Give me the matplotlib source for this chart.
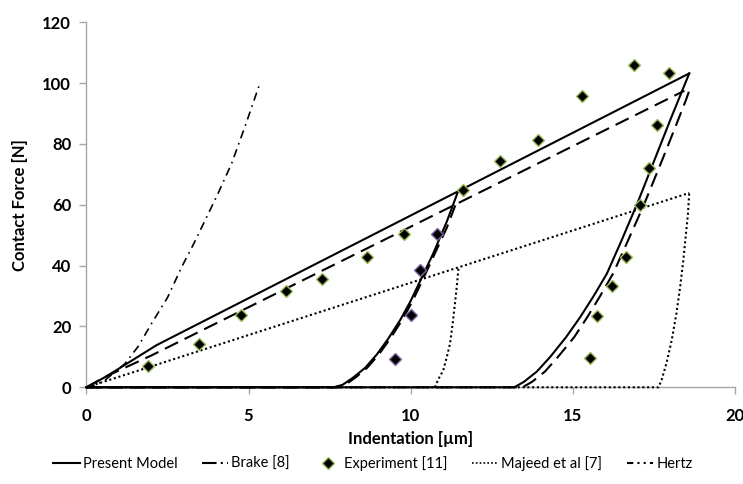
import matplotlib
matplotlib.use("Agg")
import matplotlib.pyplot as plt
from matplotlib.lines import Line2D

plt.rcParams['font.family'] = ['Lato', 'DejaVu Sans']

# Present model: loading curve + two unloading curves
present_load_x = [0, 0.6, 2.17, 18.6]
present_load_y = [0, 3.5, 13.9, 103.2]
present_un1_x = [0, 7.62, 7.9, 8.23, 8.6, 8.96, 9.3, 9.68, 10.0, 10.29, 10.7, 11.12, 11.48]
present_un1_y = [0, 0, 0.8, 3.2, 6.4, 10.8, 15.8, 22.1, 28.3, 34.8, 44.0, 54.5, 64.8]
present_un2_x = [0, 13.2, 13.5, 13.9, 14.31, 14.8, 15.23, 15.65, 16.06, 16.5, 17.0, 17.5, 18.0, 18.6]
present_un2_y = [0, 0, 1.8, 5.2, 10.0, 16.5, 23.0, 30.0, 37.4, 48.0, 60.5, 74.0, 87.5, 103.2]

# Brake [8]
brake_load_x = [0, 0.57, 2.01, 18.45]
brake_load_y = [0, 3.4, 10.5, 97.5]
brake_un1_x = [0, 7.7, 7.98, 8.3, 8.66, 9.02, 9.36, 9.74, 10.06, 10.35, 10.75, 11.12, 11.38]
brake_un1_y = [0, 0, 0.8, 3.2, 6.4, 10.8, 15.8, 22.1, 28.3, 34.8, 44.0, 52.5, 59.8]
brake_un2_x = [0, 13.45, 13.75, 14.15, 14.55, 15.05, 15.45, 15.85, 16.25, 16.7,
               17.2, 17.7, 18.15, 18.5, 18.6, 18.55]
brake_un2_y = [0, 0, 1.8, 5.2, 10.0, 16.5, 23.0, 30.0, 37.4, 48.0,
               60.0, 73.0, 85.0, 94.5, 97.5, 98.6]

# Experiment [11]
exp_x = [1.89, 3.46, 4.78, 6.15, 7.27, 8.66, 9.8, 11.63, 12.77, 13.94, 15.29,
         16.91, 17.97, 17.61, 17.35, 17.09, 16.66, 16.22, 15.76, 15.55]
exp_y = [6.9, 14.1, 23.8, 31.5, 35.6, 42.8, 50.4, 64.8, 74.4, 81.3, 95.7,
         105.9, 103.2, 86.2, 72.0, 60.0, 43.0, 33.2, 23.3, 9.6]
exp_un_x = [10.81, 10.28, 10.02, 9.53]
exp_un_y = [50.4, 38.7, 23.8, 9.4]

# Majeed et al [7]
majeed_load_x = [0, 18.6]
majeed_load_y = [0, 63.9]
majeed_un1_x = [10.75, 10.85, 11.01, 11.12, 11.22, 11.3, 11.37, 11.43, 11.48]
majeed_un1_y = [0, 2.5, 5.6, 10.0, 14.4, 21.0, 27.5, 33.5, 39.3]
majeed_un2_x = [0, 17.65, 17.75, 17.9, 18.06, 18.2, 18.32, 18.42, 18.5, 18.56, 18.6]
majeed_un2_y = [0, 0, 2.5, 8.0, 15.5, 24.0, 33.0, 42.0, 50.6, 57.0, 63.9]

# Hertz
hertz_x = [0, 0.3, 0.57, 1.19, 1.6, 2.01, 2.5, 2.94, 3.3, 3.66, 4.05, 4.48, 4.9, 5.35]
hertz_y = [0, 0.9, 2.3, 7.8, 13.5, 21.0, 29.5, 39.6, 47.0, 54.9, 63.5, 73.6, 86.0, 99.9]

fig = plt.figure(figsize=(7.43, 4.84), dpi=100)
ax = fig.add_axes([0.1164, 0.1998, 0.8723, 0.7541])

lw = 1.5
dash = (0, (7, 3.5))
dot = (0, (1, 1.3))
dashdot = (0, (5, 3, 1, 3))
kw = dict(color='black', clip_on=False, zorder=3)

ax.plot(majeed_load_x, majeed_load_y, lw=lw, linestyle=dot, **kw)
ax.plot(majeed_un1_x, majeed_un1_y, lw=lw, linestyle=dot, **kw)
ax.plot(majeed_un2_x, majeed_un2_y, lw=lw, linestyle=dot, **kw)

ax.plot(hertz_x, hertz_y, lw=1.2, linestyle=dashdot, **kw)

ax.plot(brake_load_x, brake_load_y, lw=lw, linestyle=dash, **kw)
ax.plot(brake_un1_x, brake_un1_y, lw=lw, linestyle=dash, **kw)
ax.plot(brake_un2_x, brake_un2_y, lw=lw, linestyle=dash, **kw)

ax.plot(present_load_x, present_load_y, lw=lw, **kw)
ax.plot(present_un1_x, present_un1_y, lw=lw, **kw)
ax.plot(present_un2_x, present_un2_y, lw=lw, **kw)

ax.plot(exp_x, exp_y, 'D', color='black', markersize=6.5, zorder=4,
        markeredgecolor='#9BBB59', markeredgewidth=1.0, linestyle='none')
ax.plot(exp_un_x, exp_un_y, 'D', color='black', markersize=6.5, zorder=4,
        markeredgecolor='#8064A2', markeredgewidth=1.0, linestyle='none')

ax.set_xlim(0, 20)
ax.set_ylim(0, 120)
ax.set_xticks([0, 5, 10, 15, 20])
ax.set_yticks(range(0, 121, 20))

for s in ['top', 'right']:
    ax.spines[s].set_visible(False)
for s in ['left', 'bottom']:
    ax.spines[s].set_color('#A6A6A6')
    ax.spines[s].set_linewidth(1.0)
    ax.spines[s].set_zorder(1)
ax.tick_params(axis='both', colors='#A6A6A6', length=5, width=1.0,
               labelcolor='black', labelsize=12)
for lab in ax.get_xticklabels() + ax.get_yticklabels():
    lab.set_fontweight('bold')
ax.tick_params(axis='x', pad=10)
ax.tick_params(axis='y', pad=6)

ax.set_xlabel('Indentation [µm]', fontsize=12, fontweight='bold', labelpad=5)
ax.set_ylabel('Contact Force [N]', fontsize=12, fontweight='bold', labelpad=10)

handles = [
    Line2D([], [], color='black', lw=lw),
    Line2D([], [], color='black', lw=lw, linestyle=(0, (7, 2, 1, 2))),
    Line2D([], [], color='black', marker='D', markersize=6, linestyle='none',
           markeredgecolor='#9BBB59'),
    Line2D([], [], color='black', lw=1.2, linestyle=dot),
    Line2D([], [], color='black', lw=lw, linestyle=(0, (3, 2, 1, 2, 1, 2))),
]
labels = ['Present Model', 'Brake [8]', 'Experiment [11]', 'Majeed et al [7]', 'Hertz']
fig.legend(handles, labels, loc='center', bbox_to_anchor=(0.502, 0.042), ncol=5,
           frameon=False, fontsize=10.5, handlelength=1.8, handletextpad=0.2,
           columnspacing=1.7)

fig.savefig('out.png', dpi=100)
